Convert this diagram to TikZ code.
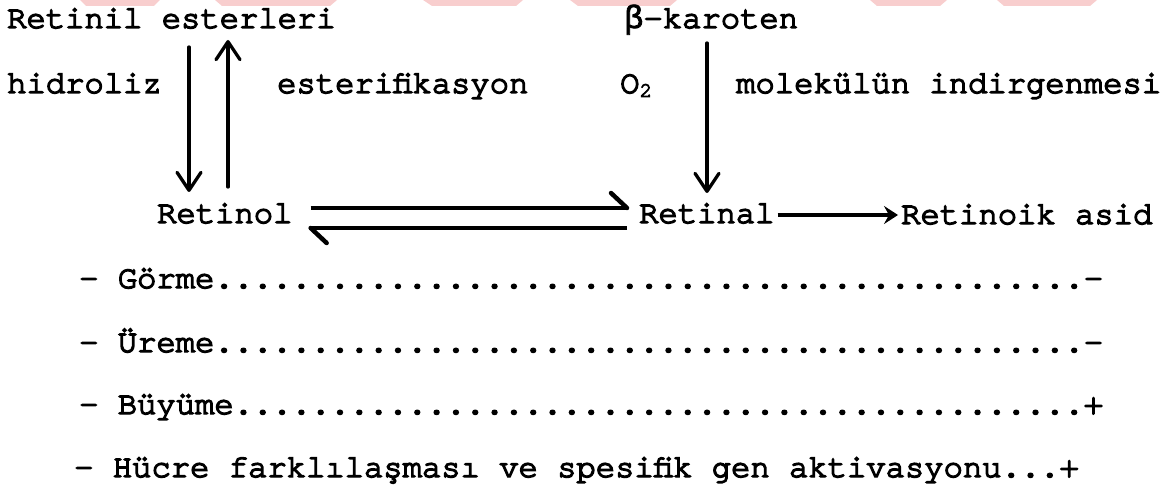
\documentclass[tikz,border=0pt]{standalone}
\usepackage{fontspec}
\newfontfamily\tw[FakeBold=4.5]{TeX Gyre Cursor}
\newfontfamily\twgreek[FakeBold=2.5]{Liberation Mono}
\usetikzlibrary{arrows.meta,calc}
\definecolor{wmpink}{RGB}{248,206,206}
\begin{document}
\begin{tikzpicture}[x=1pt,y=-1pt,
  txt/.style={inner sep=0pt, anchor=base west,
    font={\tw\fontsize{32.2pt}{34pt}\selectfont}},
  varrow/.style={line width=3.3pt, line cap=round,
    -{Straight Barb[length=18pt,width=24pt,line cap=round,line join=round]}},
  eqline/.style={line width=3.3pt},
  eqbarb/.style={line width=4.5pt, line cap=round},
  harrow/.style={line width=3pt,
    -{Stealth[length=14pt,width=18pt,inset=5pt]}},
  wm/.style={fill=wmpink, draw=none}]
\useasboundingbox (0,0) rectangle (1172,489);

% faint band along the top edge
\fill[wm] (80,0) -- (160,0) -- (154,6) -- (86,6) -- cycle;
\fill[wm] (215,0) -- (337,0) -- (330,6) -- (222,6) -- cycle;
\fill[wm] (423,0) -- (523,0) -- (516,6) -- (432,6) -- cycle;
\fill[wm] (570,0) -- (677,0) -- (670,6) -- (578,6) -- cycle;
\fill[wm] (870,0) -- (947,0) -- (940,6) -- (877,6) -- cycle;
\fill[wm] (997,0) -- (1097,0) -- (1090,6) -- (1004,6) -- cycle;

% compounds and reaction labels
\node[txt] (esterleri) at (7,28) {Retinil esterleri};
\node[txt] (karoten) at (624,28) {{\twgreek β}-karoten};
\node[txt] (hidroliz) at (7,93) {hidroliz};
\node[txt] (esterif) at (277,93) {esterifikasyon};
\node[txt] (oksijen) at (620,93) {O\raisebox{-4pt}{\fontsize{21pt}{21pt}\selectfont 2}};
\node[txt] (indirgenme) at (736,93) {molekülün indirgenmesi};
\node[txt] (retinol) at (157,223) {Retinol};
\node[txt] (retinal) at (639,223) {Retinal};
\node[txt] (retinoik) at (901,224) {Retinoik asid};

% functions list
\node[txt] (gorme) at (79,288) {- Görme.............................................-};
\node[txt] (ureme) at (79,352) {- Üreme.............................................-};
\node[txt] (buyume) at (79,414) {- Büyüme............................................+};
\node[txt] (hucre) at (74,477) {- Hücre farklılaşması ve spesifik gen aktivasyonu...+};

% hydrolysis / esterification
\draw[varrow, shorten <=19pt, shorten >=31pt]
  (esterleri.base -| 189,0) -- (retinol.base -| 189,0);
\draw[varrow, shorten <=36pt, shorten >=12pt]
  (retinol.base -| 228,0) -- (esterleri.base -| 228,0);

% cleavage of beta-carotene
\draw[varrow, shorten <=15pt, shorten >=30pt]
  (karoten.base -| 707,0) -- (retinal.base -| 707,0);

% retinol <=> retinal
\coordinate (eqTopL) at ($(retinol.base east)+(18,-15)$);
\coordinate (eqTopR) at ($(retinal.base west)+(-12,-15)$);
\coordinate (eqBotL) at ($(retinol.base east)+(18,5)$);
\coordinate (eqBotR) at ($(retinal.base west)+(-12,5)$);
\draw[eqline] (eqTopL) -- (eqTopR);
\draw[eqbarb] (eqTopR) -- ++(-16,-15);
\draw[eqline] (eqBotR) -- (eqBotL);
\draw[eqbarb] (eqBotL) -- ++(16,15);

% retinal -> retinoic acid
\coordinate (raStart) at ($(retinal.base east)+(3,-8)$);
\draw[harrow, shorten >=3pt] (raStart) -- (raStart -| retinoik.base west);
\end{tikzpicture}
\end{document}
